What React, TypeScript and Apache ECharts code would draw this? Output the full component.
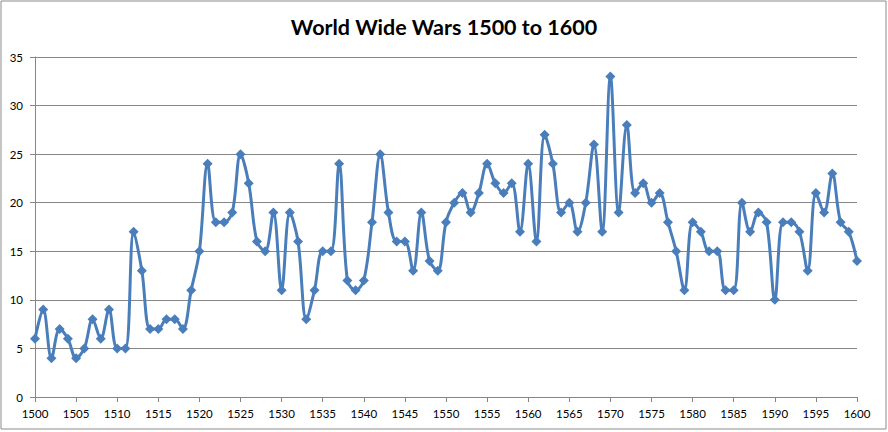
import React, { useEffect, useRef } from "react";
import * as echarts from "echarts";

const TITLE = "World Wide Wars 1500 to 1600";
const START_YEAR = 1500;
const END_YEAR = 1600;
const Y_TICKS = [0, 5, 10, 15, 20, 25, 30, 35];
const WARS = [
  6, 9, 4, 7, 6, 4, 5, 8, 6, 9,
  5, 5, 17, 13, 7, 7, 8, 8, 7, 11,
  15, 24, 18, 18, 19, 25, 22, 16, 15, 19,
  11, 19, 16, 8, 11, 15, 15, 24, 12, 11,
  12, 18, 25, 19, 16, 16, 13, 19, 14, 13,
  18, 20, 21, 19, 21, 24, 22, 21, 22, 17,
  24, 16, 27, 24, 19, 20, 17, 20, 26, 17,
  33, 19, 28, 21, 22, 20, 21, 18, 15, 11,
  18, 17, 15, 15, 11, 11, 20, 17, 19, 18,
  10, 18, 18, 17, 13, 21, 19, 23, 18, 17,
  14,
];

export default function App() {
  const ref = useRef<HTMLDivElement>(null);
  useEffect(() => {
    if (!ref.current) return;
    const chart = echarts.init(ref.current, null, { renderer: "svg" });
    const data = WARS.map((v, i) => [START_YEAR + i, v]);
    const axisColor = "#868686";
    const labelStyle = { color: "#000", fontFamily: "Lato", fontSize: 11.5 };
    chart.setOption({
      animation: false,
      backgroundColor: "#fff",
      title: {
        text: TITLE,
        left: "center",
        top: 11,
        textStyle: { fontFamily: "Lato", fontWeight: "bold", fontSize: 21.5, color: "#000" },
      },
      graphic: [
        {
          type: "rect",
          shape: { x: 1, y: 1, width: 885, height: 428 },
          style: { fill: "none", stroke: "#8a8a8a", lineWidth: 1 },
          silent: true,
        },
      ],
      grid: { left: 35, right: 31, top: 57, bottom: 35 },
      xAxis: {
        type: "value",
        min: START_YEAR,
        max: END_YEAR,
        interval: 5,
        axisLine: { show: true, lineStyle: { color: axisColor } },
        axisTick: { show: true, length: 5, lineStyle: { color: axisColor } },
        axisLabel: { ...labelStyle, margin: 10, formatter: (v: number) => String(v) },
        splitLine: { show: false },
      },
      yAxis: {
        type: "value",
        min: Y_TICKS[0],
        max: Y_TICKS[Y_TICKS.length - 1],
        interval: 5,
        axisLine: { show: true, lineStyle: { color: axisColor } },
        axisTick: { show: true, length: 5, lineStyle: { color: axisColor } },
        axisLabel: { ...labelStyle, margin: 12 },
        splitLine: { show: true, lineStyle: { color: axisColor, width: 1 } },
      },
      series: [
        {
          type: "line",
          data,
          smooth: 0.35,
          symbol: "diamond",
          symbolSize: 10,
          lineStyle: { color: "#4a7ebb", width: 3 },
          itemStyle: { color: "#4a7ebb" },
        },
      ],
    });
    return () => chart.dispose();
  }, []);
  return (
    <div
      ref={ref}
      style={{ position: "fixed", left: 0, top: 0, width: 888, height: 432 }}
    />
  );
}
